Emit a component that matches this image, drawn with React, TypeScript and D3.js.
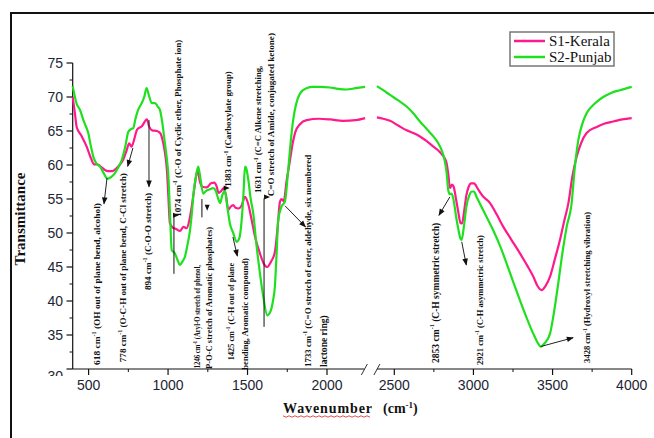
import React from "react";
import * as d3 from "d3";

const width = 654;
const height = 438;

// [wavenumber cm-1, transmittance %], low range (400-2240)
const keralaLow: [number, number][] = [
  [400, 70.0], [414, 67.6], [425, 65.6], [455, 64.3], [488, 62.7], [515, 61.0], [535, 60.1],
  [555, 60.1], [575, 59.8], [600, 59.3], [625, 59.1], [650, 59.1], [670, 59.4], [695, 60.0],
  [718, 60.8], [740, 62.2], [755, 63.2], [770, 62.7], [785, 63.6], [805, 65.2], [835, 65.7],
  [867, 66.7], [882, 65.6], [900, 65.1], [930, 65.0], [950, 64.7], [968, 63.4], [981, 61.7],
  [992, 59.5], [1001, 55.8], [1012, 51.4], [1030, 50.8], [1050, 50.6], [1075, 50.3], [1096, 50.9],
  [1117, 50.7], [1135, 52.0], [1149, 53.9], [1165, 56.5], [1185, 59.2], [1200, 57.6], [1215, 56.8],
  [1243, 56.7], [1270, 57.3], [1290, 57.4], [1305, 56.9], [1318, 55.9], [1335, 56.2], [1350, 56.6],
  [1365, 55.4], [1379, 53.4], [1395, 53.9], [1410, 54.1], [1425, 53.7], [1442, 53.6], [1462, 54.0],
  [1484, 55.3], [1505, 54.2], [1526, 51.9], [1550, 49.2], [1578, 47.0], [1600, 45.6], [1624, 45.0],
  [1648, 45.8], [1672, 47.2], [1690, 51.0], [1704, 54.6], [1715, 55.0], [1728, 54.7], [1745, 57.5],
  [1767, 60.7], [1785, 63.3], [1800, 64.8], [1830, 66.0], [1872, 66.6], [1950, 66.8], [2020, 66.7],
  [2100, 66.5], [2180, 66.6], [2240, 66.9],
];
const punjabLow: [number, number][] = [
  [400, 71.6], [425, 69.0], [446, 68.1], [470, 66.4], [498, 64.7], [515, 62.7], [530, 61.2],
  [550, 60.2], [572, 59.75], [595, 58.8], [618, 58.0], [640, 58.2], [666, 58.8], [688, 59.7],
  [708, 60.7], [730, 62.6], [750, 64.9], [768, 65.3], [781, 65.4], [795, 66.8], [810, 68.0],
  [834, 69.1], [850, 70.0], [865, 71.3], [880, 70.2], [897, 69.1], [918, 69.1], [935, 68.6],
  [949, 68.1], [965, 66.0], [980, 63.2], [992, 61.0], [1001, 58.8], [1012, 53.0], [1023, 47.5],
  [1043, 47.0], [1060, 46.0], [1075, 45.3], [1090, 45.8], [1106, 46.5], [1120, 48.0], [1138, 50.4],
  [1150, 53.0], [1160, 55.8], [1175, 58.3], [1190, 59.75], [1205, 57.8], [1221, 55.8], [1240, 56.2],
  [1260, 56.4], [1284, 56.6], [1300, 56.2], [1316, 55.0], [1327, 54.4], [1342, 55.6], [1358, 56.2],
  [1372, 54.0], [1389, 51.4], [1410, 50.0], [1431, 48.7], [1448, 49.2], [1463, 51.9], [1475, 56.0],
  [1484, 59.75], [1492, 59.5], [1505, 57.8], [1520, 55.0], [1536, 52.9], [1555, 48.5], [1578, 44.1],
  [1600, 40.5], [1624, 37.9], [1645, 38.5], [1660, 40.0], [1672, 42.1], [1683, 47.0], [1693, 51.9],
  [1714, 53.9], [1735, 54.6], [1756, 59.3], [1772, 63.5], [1787, 66.6], [1805, 68.9], [1830, 70.5],
  [1870, 71.3], [1913, 71.5], [1960, 71.5], [2018, 71.4], [2070, 71.2], [2123, 71.1], [2180, 71.3],
  [2240, 71.5],
];

// high range (2390-4000), after the axis break
const keralaHigh: [number, number][] = [
  [2390, 67.0], [2430, 66.8], [2473, 66.5], [2525, 65.8], [2578, 65.1], [2620, 64.7], [2662, 64.2],
  [2705, 63.5], [2747, 62.7], [2775, 62.2], [2799, 61.6], [2818, 61.0], [2831, 60.2], [2842, 58.5],
  [2852, 56.6], [2865, 57.1], [2875, 56.8], [2890, 55.0], [2905, 53.0], [2918, 51.5], [2928, 51.4],
  [2940, 53.0], [2955, 55.5], [2970, 56.8], [2985, 57.3], [3003, 57.3], [3030, 56.4], [3060, 55.4],
  [3105, 54.4], [3150, 52.6], [3189, 50.9], [3240, 49.0], [3294, 47.0], [3340, 45.2], [3378, 43.6],
  [3405, 42.2], [3431, 41.6], [3455, 42.2], [3484, 43.6], [3515, 46.2], [3547, 49.0], [3575, 51.9],
  [3600, 54.4], [3625, 58.3], [3652, 61.2], [3680, 63.2], [3715, 64.7], [3779, 65.6], [3830, 66.1],
  [3884, 66.4], [3940, 66.7], [4000, 66.9],
];
const punjabHigh: [number, number][] = [
  [2390, 71.6], [2430, 71.0], [2473, 70.3], [2525, 69.5], [2578, 68.6], [2620, 67.6], [2662, 66.4],
  [2705, 65.3], [2747, 64.2], [2775, 63.3], [2799, 62.2], [2815, 61.0], [2831, 58.8], [2841, 56.3],
  [2852, 55.7], [2862, 55.8], [2875, 54.8], [2890, 52.5], [2905, 50.5], [2918, 49.2], [2926, 49.0],
  [2940, 51.0], [2955, 53.8], [2975, 55.6], [2990, 56.1], [3003, 56.1], [3020, 55.3], [3041, 54.3],
  [3080, 52.5], [3125, 50.4], [3170, 48.0], [3210, 45.5], [3250, 42.9], [3294, 40.1], [3335, 37.6],
  [3378, 35.2], [3405, 33.9], [3425, 33.3], [3450, 33.8], [3484, 35.2], [3510, 38.5], [3536, 42.6],
  [3565, 47.5], [3589, 50.9], [3620, 54.3], [3640, 59.5], [3663, 63.7], [3690, 66.2], [3715, 67.6],
  [3765, 69.0], [3820, 70.0], [3870, 70.6], [3925, 71.0], [4000, 71.5],
];

const seriesNames = ["S1-Kerala", "S2-Punjab"];
const seriesColors = ["#ff1a8c", "#1fe01f"];

const yTicks = [30, 35, 40, 45, 50, 55, 60, 65, 70, 75];
const xTicksLow = [500, 1000, 1500, 2000];
const xTicksHigh = [2500, 3000, 3500, 4000];

// peak labels: wavenumber of the text column, transmittance span, text
type Note = { wn: number; lo: number; hi: number; head: string; tail: string; bold?: boolean; size?: number };
const notes: Note[] = [
  { wn: 550, lo: 30.6, hi: 54.4, head: "618 cm", tail: " (OH out of plane bend,  alcohol)" },
  { wn: 716, lo: 31.0, hi: 58.8, head: "778 cm", tail: " (O-C-H out of plane bend,  C-Cl stretch)" },
  { wn: 870, lo: 41.6, hi: 55.9, head: "894 cm", tail: " (C-O-O stretch)" },
  { wn: 1062, lo: 52.4, hi: 78.4, head: "1074 cm", tail: " (C-O of Cyclic ether,  Phosphate ion)" },
  { wn: 1182, lo: 30.1, hi: 45.3, head: "1246 cm", tail: " (Aryl-O stretch of phenol," },
  { wn: 1254, lo: 30.0, hi: 50.9, head: "", tail: "P-O-C stretch of Aromatic phosphates)" },
  { wn: 1377, lo: 56.8, hi: 73.8, head: "1383 cm", tail: " (Carboxylate group)" },
  { wn: 1393, lo: 31.3, hi: 45.6, head: "1425 cm", tail: " (C-H out of plane" },
  { wn: 1481, lo: 29.9, hi: 46.3, head: "", tail: "bending,  Aromatic compound)" },
  { wn: 1566, lo: 55.9, hi: 74.6, head: "1631 cm", tail: " (C=C Alkene stretching," },
  { wn: 1648, lo: 55.4, hi: 79.4, head: "", tail: "C=O stretch of Amide,  conjugated ketone)" },
  { wn: 1880, lo: 30.3, hi: 61.5, head: "1733 cm", tail: " (C=O stretch of ester,  aldehyde,  six membered" },
  { wn: 1981, lo: 30.3, hi: 37.9, head: "", tail: "lactone ring)", size: 9.5 },
  { wn: 2757, lo: 30.9, hi: 51.5, head: "2853 cm", tail: " (C-H symmetric stretch)", size: 10.5 },
  { wn: 3038, lo: 30.6, hi: 49.7, head: "2921 cm", tail: " (C-H asymmetric stretch)" },
  { wn: 3718, lo: 30.9, hi: 53.1, head: "3428 cm", tail: " (Hydroxyl stretching vibration)" },
];

// pointer arrows [wn, T] -> [wn, T]
const arrows: [number, number, number, number][] = [
  [616, 58.1, 597, 54.3],
  [779, 62.5, 746, 59.8],
  [880, 66.6, 880, 56.8],
  [1408, 49.4, 1436, 46.6],
  [1736, 54.0, 1865, 50.9],
  [2851, 55.3, 2782, 52.6],
  [2926, 48.7, 2955, 45.3],
  [3425, 33.3, 3630, 34.6],
];
// plain leader lines
const leaders: [number, number, number, number][] = [
  [1037, 44.0, 1037, 52.6],
  [1213, 55.0, 1213, 52.3],
  [1604, 55.1, 1604, 36.2],
];
// small triangle marks: wn, T, direction
const marks: [number, number, string][] = [
  [1050, 52.6, "right"],
  [1246, 53.7, "down"],
  [1369, 56.6, "right"],
  [1623, 55.3, "right"],
];

const xLow = d3.scaleLinear().domain([400, 2000]).range([72.7, 327]);
const xHigh = d3.scaleLinear().domain([2500, 4000]).range([394.3, 631.7]);
const yScale = d3.scaleLinear().domain([30, 75]).range([369, 63]);
const xOf = (wn: number) => (wn < 2300 ? xLow(wn) : xHigh(wn));

const lineLow = d3.line<[number, number]>().x(d => xLow(d[0])).y(d => yScale(d[1])).curve(d3.curveMonotoneX);
const lineHigh = d3.line<[number, number]>().x(d => xHigh(d[0])).y(d => yScale(d[1])).curve(d3.curveMonotoneX);

const axisY = yScale(30);
const breakL = xLow(2235);
const breakR = xHigh(2390);

const tri = (x: number, y: number, dir: string) => {
  if (dir === "down") return `M${x - 2.5},${y - 3}L${x + 2.5},${y - 3}L${x},${y + 3}Z`;
  return `M${x - 3},${y - 2.5}L${x + 3},${y}L${x - 3},${y + 2.5}Z`;
};

const NoteText = ({ n }: { n: Note }) => {
  const fs = n.size ?? 9;
  const x = xOf(n.wn) + fs * 0.35;
  const y0 = yScale(n.lo);
  const len = y0 - yScale(n.hi);
  return (
    <text
      transform={`translate(${x},${y0}) rotate(-90)`}
      fontFamily="'Liberation Serif', serif"
      fontSize={fs}
      fontWeight="bold"
      fill="#111"
      textLength={len}
      lengthAdjust="spacingAndGlyphs"
    >
      {n.head && (
        <>
          {n.head}
          <tspan fontSize={fs * 0.65} dy={-fs * 0.4}>-1</tspan>
          <tspan dy={fs * 0.4}>{n.tail}</tspan>
        </>
      )}
      {!n.head && n.tail}
    </text>
  );
};

export default function App() {
  const wavy = d3.range(283, 372, 3).map((x, i) => `${i ? "L" : "M"}${x},${416 + (i % 2 ? 1.2 : -0.2)}`).join("");
  return (
    <svg width={width} height={height} style={{ position: "absolute", left: 0, top: 0, background: "#fff" }}>
      <defs>
        <marker id="ah" viewBox="0 0 10 10" refX="9" refY="5" markerWidth="8" markerHeight="7"
          orient="auto" markerUnits="userSpaceOnUse">
          <path d="M0,1 L10,5 L0,9 z" fill="#111" />
        </marker>
        <clipPath id="clip30">
          <rect x={0} y={0} width={70} height={376} />
        </clipPath>
      </defs>

      {/* page frame */}
      <line x1={11} y1={12} x2={11} y2={height} stroke="#111" strokeWidth={2} />
      <line x1={10} y1={13} x2={width} y2={13} stroke="#111" strokeWidth={2} />

      {/* y axis */}
      <line x1={72.7} y1={yScale(75)} x2={72.7} y2={axisY} stroke="#111" strokeWidth={1.2} />
      {yTicks.map(t => (
        <g key={t}>
          <line x1={66.5} x2={72.7} y1={yScale(t)} y2={yScale(t)} stroke="#111" strokeWidth={1.2} />
          <text x={63} y={t === 30 ? yScale(t) + 12 : yScale(t) + 5} textAnchor="end" fontSize={14}
            fontFamily="'Liberation Sans', Arial, sans-serif" fill="#1c2533"
            clipPath={t === 30 ? "url(#clip30)" : undefined}>{t}</text>
        </g>
      ))}
      {d3.range(32.5, 75, 5).map(t => (
        <line key={t} x1={69.5} x2={72.7} y1={yScale(t)} y2={yScale(t)} stroke="#111" strokeWidth={1} />
      ))}

      {/* x axis with break */}
      <line x1={72.7} x2={breakL} y1={axisY} y2={axisY} stroke="#111" strokeWidth={1.2} />
      <line x1={breakR} x2={xHigh(4000)} y1={axisY} y2={axisY} stroke="#111" strokeWidth={1.2} />
      <line x1={breakL - 3} y1={axisY + 6} x2={breakL + 3} y2={axisY - 5} stroke="#333" strokeWidth={1} />
      <line x1={breakR - 3} y1={axisY + 6} x2={breakR + 3} y2={axisY - 5} stroke="#333" strokeWidth={1} />
      {[...xTicksLow.map(t => xLow(t)), ...xTicksHigh.map(t => xHigh(t))].map((x, i) => (
        <line key={i} x1={x} x2={x} y1={axisY} y2={axisY + 6} stroke="#111" strokeWidth={1.2} />
      ))}
      {[...[750, 1250, 1750].map(t => xLow(t)), ...[2750, 3250, 3750].map(t => xHigh(t))].map((x, i) => (
        <line key={i} x1={x} x2={x} y1={axisY} y2={axisY + 3} stroke="#111" strokeWidth={1} />
      ))}
      {[...xTicksLow.map(t => [xLow(t), t]), ...xTicksHigh.map(t => [xHigh(t), t])].map(([x, t]) => (
        <text key={t} x={x} y={390} textAnchor="middle" fontSize={14}
          fontFamily="'Liberation Sans', Arial, sans-serif" fill="#1c2533">{t}</text>
      ))}

      {/* axis titles */}
      <text transform="translate(25,219) rotate(-90)" textAnchor="middle" fontSize={15} fontWeight="bold"
        fontFamily="'Liberation Serif', serif" fill="#111">Transmittance</text>
      <text x={283} y={413} fontSize={14} fontWeight="bold" fontFamily="'Liberation Serif', serif" fill="#111"
        textLength={89} lengthAdjust="spacing">Wavenumber</text>
      <path d={wavy} fill="none" stroke="#e02020" strokeWidth={0.8} />
      <text x={383} y={413} fontSize={14} fontWeight="bold" fontFamily="'Liberation Serif', serif" fill="#111">
        (cm<tspan fontSize={9} dy={-5}>-1</tspan><tspan dy={5}>)</tspan>
      </text>

      {/* spectra */}
      {[keralaLow, punjabLow].map((s, i) => (
        <path key={"l" + i} d={lineLow(s) ?? ""} fill="none" stroke={seriesColors[i]} strokeWidth={2.2} />
      ))}
      {[keralaHigh, punjabHigh].map((s, i) => (
        <path key={"h" + i} d={lineHigh(s) ?? ""} fill="none" stroke={seriesColors[i]} strokeWidth={2.2} />
      ))}

      {/* annotations */}
      {notes.map((n, i) => <NoteText key={i} n={n} />)}
      {arrows.map(([a, b, c, d], i) => (
        <line key={i} x1={xOf(a)} y1={yScale(b)} x2={xOf(c)} y2={yScale(d)} stroke="#222" strokeWidth={1}
          markerEnd="url(#ah)" />
      ))}
      {leaders.map(([a, b, c, d], i) => (
        <line key={i} x1={xOf(a)} y1={yScale(b)} x2={xOf(c)} y2={yScale(d)} stroke="#111" strokeWidth={1} />
      ))}
      {marks.map(([wn, t, dir], i) => (
        <path key={i} d={tri(xOf(wn), yScale(t), dir)} fill="#111" />
      ))}

      {/* legend */}
      <rect x={510} y={32} width={104} height={34} fill="#fff" stroke="#777" strokeWidth={1.5} />
      {seriesNames.map((name, i) => (
        <g key={name}>
          <line x1={514} x2={545} y1={41 + i * 16} y2={41 + i * 16} stroke={seriesColors[i]} strokeWidth={2.5} />
          <text x={549} y={46 + i * 16} fontSize={15} fontFamily="'Liberation Serif', serif" fill="#111">{name}</text>
        </g>
      ))}
    </svg>
  );
}
